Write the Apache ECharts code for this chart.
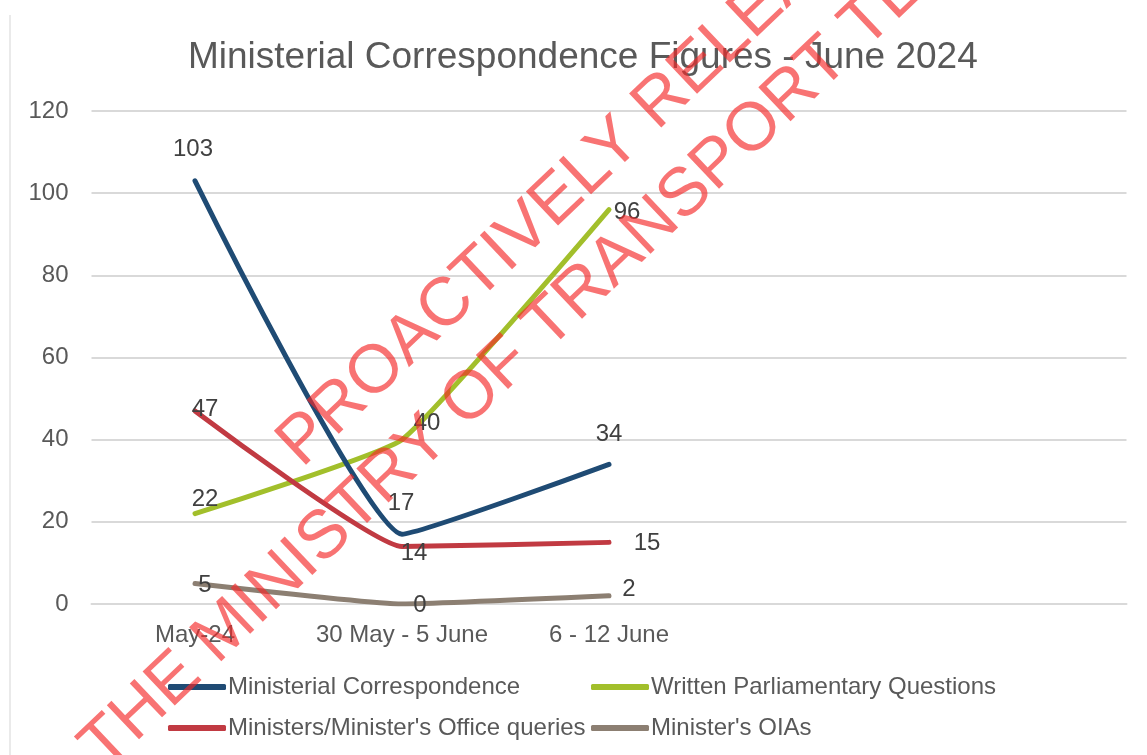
<!DOCTYPE html>
<html>
<head>
<meta charset="utf-8">
<script src="https://cdn.jsdelivr.net/npm/echarts@6/dist/echarts.min.js"></script>
<style>
html,body{margin:0;padding:0;background:#fff;}
#chart{width:1147px;height:755px;}
</style>
</head>
<body>
<div id="chart"></div>
<script>
var categories = ['May-24', '30 May - 5 June', '6 - 12 June', '', ''];
var ministerialCorrespondence = [103, 17, 34];
var writtenParliamentaryQuestions = [22, 40, 96];
var officeQueries = [47, 14, 15];
var ministersOIAs = [5, 0, 2];
var yTicks = [0, 20, 40, 60, 80, 100, 120];
var seriesNames = ['Ministerial Correspondence', 'Written Parliamentary Questions', "Ministers/Minister's Office queries", "Minister's OIAs"];
var watermarkLines = ['PROACTIVELY RELEASED BY', 'THE MINISTRY OF TRANSPORT TE MANATŪ WAKA'];

var colors = ['#1f4b74', '#a2bf2b', '#c13a42', '#8c7f72'];
var FONT = '"Liberation Sans", Arial, sans-serif';
var TXT = '#595959';

// label offsets (px) relative to the point centre
var labelOffsets = [
  [[-2, -31], [-1, -31], [0, -30]],
  [[10, -14], [25, -16], [18, 3]],
  [[10, -2], [12, 7], [38, 1]],
  [[10, 2], [18, 1], [20, -6]]
];
var dataSets = [ministerialCorrespondence, writtenParliamentaryQuestions, officeQueries, ministersOIAs];

var series = dataSets.map(function (arr, si) {
  return {
    name: seriesNames[si],
    type: 'line',
    smooth: 0.12,
    symbol: 'circle',
    symbolSize: 1,
    lineStyle: { width: 5, color: colors[si], cap: 'round', join: 'round' },
    itemStyle: { color: colors[si] },
    z: 3 + (si === 0 ? 1 : 0),
    data: arr.map(function (v, i) {
      return {
        value: v,
        label: { show: true, position: 'inside', offset: labelOffsets[si][i] }
      };
    }),
    label: { show: true, color: '#404040', fontSize: 24, fontFamily: FONT }
  };
});

var legends = seriesNames.map(function (n, i) {
  return {
    data: [n],
    left: i % 2 === 0 ? 168 : 591,
    top: i < 2 ? 675 : 716,
    padding: 0,
    itemWidth: 58,
    itemHeight: 6,
    icon: 'roundRect',
    itemGap: 0,
    textStyle: { color: TXT, fontSize: 24, fontFamily: FONT, padding: [0, 0, 0, -3] }
  };
});

var rad = 43.5 * Math.PI / 180;
var option = {
  animation: false,
  backgroundColor: '#ffffff',
  title: {
    text: 'Ministerial Correspondence Figures - June 2024',
    left: 188, top: 39, padding: 0,
    textStyle: { color: TXT, fontSize: 37, fontWeight: 'normal', fontFamily: FONT }
  },
  legend: legends,
  grid: { left: 91.5, right: 20.5, top: 111, bottom: 151, containLabel: false },
  xAxis: {
    type: 'category',
    data: categories,
    boundaryGap: true,
    axisLine: { show: true, lineStyle: { color: '#d9d9d9', width: 2 } },
    axisTick: { show: false },
    axisLabel: { color: TXT, fontSize: 24, fontFamily: FONT, margin: 19, interval: 0 }
  },
  yAxis: {
    type: 'value',
    min: yTicks[0], max: yTicks[yTicks.length - 1], interval: yTicks[1] - yTicks[0],
    axisLine: { show: false },
    axisTick: { show: false },
    splitLine: { lineStyle: { color: '#d9d9d9', width: 2 } },
    axisLabel: { color: TXT, fontSize: 24, fontFamily: FONT, margin: 23 }
  },
  series: series,
  graphic: [
    { type: 'line', shape: { x1: 10, y1: 15, x2: 10, y2: 755 }, style: { stroke: '#e3e3e3', lineWidth: 1.5 }, z: 1 },
    {
      type: 'text', x: 289, y: 455, rotation: rad, z: 100,
      style: { text: watermarkLines[0], font: '68px ' + FONT, fill: 'rgba(245,40,40,0.65)', align: 'left', verticalAlign: 'middle' }
    },
    {
      type: 'text', x: 92, y: 758, rotation: rad, z: 100,
      style: { text: watermarkLines[1], font: '68px ' + FONT, fill: 'rgba(245,40,40,0.65)', align: 'left', verticalAlign: 'middle' }
    }
  ]
};

var chart = echarts.init(document.getElementById('chart'), null, { renderer: 'canvas' });
chart.setOption(option);
</script>
</body>
</html>
